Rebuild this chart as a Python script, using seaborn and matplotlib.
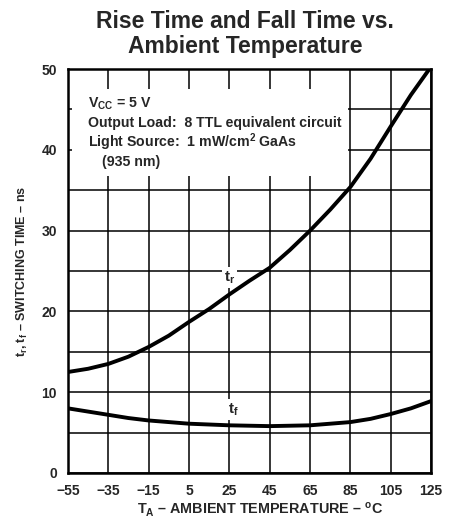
import matplotlib
matplotlib.use('Agg')
import matplotlib.pyplot as plt
from matplotlib.patches import Rectangle
import seaborn as sns
import pandas as pd
import numpy as np

# values (ns)
temps = [-55, -45, -35, -25, -15, -5, 5, 15, 25, 35, 45, 55, 65, 75, 85, 95, 105, 115, 125]
rise_time = [12.5, 12.9, 13.5, 14.4, 15.6, 17.0, 18.7, 20.3, 22.1, 23.8, 25.4, 27.6, 30.0, 32.6, 35.4, 38.9, 42.9, 46.8, 50.3]
fall_time = [8.0, 7.6, 7.2, 6.8, 6.5, 6.3, 6.1, 6.0, 5.9, 5.85, 5.8, 5.85, 5.9, 6.1, 6.3, 6.7, 7.3, 8.0, 8.9]

x_ticks = [-55, -35, -15, 5, 25, 45, 65, 85, 105, 125]
y_ticks = [0, 10, 20, 30, 40, 50]

df = pd.DataFrame({'temp': temps * 2,
                   'time': rise_time + fall_time,
                   'curve': ['tr'] * len(temps) + ['tf'] * len(temps)})

sns.set_style('white')
plt.rcParams['font.family'] = ['Liberation Sans', 'DejaVu Sans']
plt.rcParams['mathtext.fontset'] = 'custom'
plt.rcParams['mathtext.rm'] = 'Liberation Sans:bold'
plt.rcParams['mathtext.bf'] = 'Liberation Sans:bold'

fig = plt.figure(figsize=(4.5, 5.27), dpi=100, facecolor='white')
ax = fig.add_axes([0.151, 0.1025, 0.807, 0.7665])
ax.set_facecolor('white')

sns.lineplot(data=df, x='temp', y='time', units='curve', estimator=None,
             color='black', linewidth=2.8, ax=ax, zorder=5, legend=False)

ax.set_xlim(-55, 125)
ax.set_ylim(0, 50)
ax.set_xticks(x_ticks)
ax.set_yticks(y_ticks)
ax.set_xticks(np.arange(-55, 126, 20), minor=True)
ax.set_yticks(np.arange(0, 51, 5), minor=True)
ax.grid(True, which='both', color='black', linewidth=1.1)
ax.set_axisbelow(True)
ax.tick_params(which='both', length=0)
ax.tick_params(axis='x', pad=8)
ax.tick_params(axis='y', pad=8)
for lab in ax.get_xticklabels() + ax.get_yticklabels():
    lab.set_fontsize(10)
    lab.set_fontweight('bold')
for sp in ax.spines.values():
    sp.set_linewidth(1.8)
    sp.set_color('black')
    sp.set_zorder(6)

# white box holding the test conditions
ax.add_patch(Rectangle((-53, 36.8), 137, 10.7, facecolor='white', edgecolor='none', zorder=2))
tkw = dict(fontsize=10.2, fontweight='bold', va='baseline', ha='left', zorder=3,
           transform=ax.transAxes)
ax.text(0.055, 0.905, r'V$_{\mathrm{CC}}$ = 5 V', **tkw)
ax.text(0.055, 0.857, 'Output Load:  8 TTL equivalent circuit', **tkw)
ax.text(0.055, 0.808, r'Light Source:  1 mW/cm$^{\mathrm{2}}$ GaAs', **tkw)
ax.text(0.095, 0.760, '(935 nm)', **tkw)

# curve labels
ax.text(25, 24.2, r't$_{\mathrm{r}}$', fontsize=11, fontweight='bold', ha='center', va='center',
        zorder=4, bbox=dict(facecolor='white', edgecolor='none', pad=1.5))
ax.text(27, 7.9, r't$_{\mathrm{f}}$', fontsize=11, fontweight='bold', ha='center', va='center',
        zorder=4, bbox=dict(facecolor='white', edgecolor='none', pad=1.5))

ax.set_xlabel(r'T$_{\mathrm{A}}$ – AMBIENT TEMPERATURE – $^{\mathrm{o}}$C',
              fontsize=10.4, fontweight='bold')
ax.xaxis.set_label_coords(0.53, -0.068)
ax.set_ylabel(r't$_{\mathrm{r}}$, t$_{\mathrm{f}}$ – SWITCHING TIME – ns',
              fontsize=9, fontweight='bold', labelpad=8)

tfont = dict(fontsize=16.5, fontweight='bold', ha='center', va='center')
fig.text(0.545, 0.960, 'Rise Time and Fall Time vs.', **tfont)
fig.text(0.545, 0.911, 'Ambient Temperature', **tfont)

plt.savefig('out.png', dpi=100, facecolor='white')
